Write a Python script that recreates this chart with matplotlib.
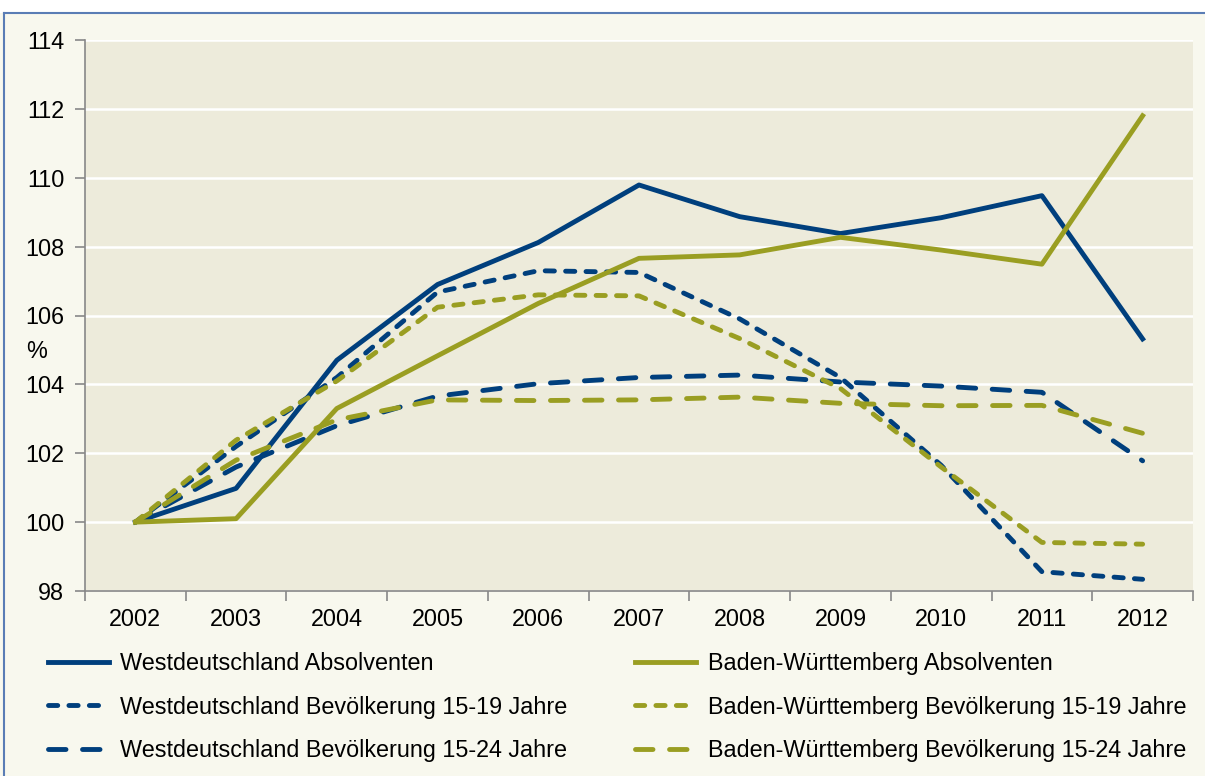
import matplotlib.pyplot as plt
import numpy as np
from matplotlib.patches import Rectangle

plt.rcParams['font.family'] = ['Liberation Sans', 'DejaVu Sans']

years = ['2002', '2003', '2004', '2005', '2006', '2007', '2008', '2009', '2010', '2011', '2012']

wd_abs = [100, 100.98, 104.70, 106.90, 108.12, 109.79, 108.87, 108.38, 108.84, 109.48, 105.32]
bw_abs = [100, 100.10, 103.30, 104.83, 106.35, 107.66, 107.76, 108.27, 107.90, 107.49, 111.80]
wd_1519 = [100, 102.20, 104.20, 106.68, 107.30, 107.25, 105.90, 104.20, 101.65, 98.56, 98.34]
bw_1519 = [100, 102.38, 104.10, 106.24, 106.60, 106.57, 105.33, 103.88, 101.60, 99.41, 99.36]
wd_1524 = [100, 101.60, 102.80, 103.66, 104.02, 104.20, 104.27, 104.07, 103.95, 103.77, 101.78]
bw_1524 = [100, 101.80, 102.97, 103.55, 103.53, 103.55, 103.63, 103.45, 103.38, 103.39, 102.58]

navy = '#003F7D'
olive = '#9A9E22'
fs = 16.8

fig = plt.figure(figsize=(12.05, 7.76), dpi=100)
fig.patch.set_facecolor('#F8F8EE')
ax = fig.add_axes([85/1205, 1-591/776, 1108/1205, 551/776])
ax.set_facecolor('#EDEBDB')

# white strip above the chart frame + frame line
fig.patches.append(Rectangle((0, 1-13/776), 1, 13/776, transform=fig.transFigure,
                             facecolor='white', edgecolor='none', zorder=0))
fig.lines.append(plt.Line2D([4/1205, 1], [1-13/776, 1-13/776], transform=fig.transFigure,
                            color='#5A7DB5', lw=1.5))
fig.lines.append(plt.Line2D([4/1205, 4/1205], [0, 1-13/776], transform=fig.transFigure,
                            color='#5A7DB5', lw=1.5))

x = np.arange(len(years))
lw = 3.5
short = (1.9, 2.3)
long_ = (3.6, 3.4)
ax.plot(x, wd_abs, color=navy, lw=lw, label='Westdeutschland Absolventen')
ax.plot(x, wd_1519, color=navy, lw=lw, dashes=short, dash_capstyle='round',
        label='Westdeutschland Bevölkerung 15-19 Jahre')
ax.plot(x, wd_1524, color=navy, lw=lw, dashes=long_, dash_capstyle='round',
        label='Westdeutschland Bevölkerung 15-24 Jahre')
ax.plot(x, bw_abs, color=olive, lw=lw, label='Baden-Württemberg Absolventen')
ax.plot(x, bw_1519, color=olive, lw=lw, dashes=short, dash_capstyle='round',
        label='Baden-Württemberg Bevölkerung 15-19 Jahre')
ax.plot(x, bw_1524, color=olive, lw=lw, dashes=long_, dash_capstyle='round',
        label='Baden-Württemberg Bevölkerung 15-24 Jahre')

ax.set_ylim(98, 114)
ax.set_yticks(np.arange(98, 115, 2))
ax.set_xlim(-0.5, 10.5)
ax.set_xticks(x)
ax.set_xticklabels(years)
ax.set_xticks(np.arange(-0.5, 11, 1), minor=True)
ax.tick_params(axis='x', which='major', length=0, pad=12, labelsize=fs)
ax.tick_params(axis='x', which='minor', length=7, color='#888888', width=1.2)
ax.tick_params(axis='y', length=7, color='#888888', width=1.2, pad=8, labelsize=fs)
ax.grid(axis='y', color='white', lw=1.8)
ax.set_axisbelow(True)
for s in ['top', 'right']:
    ax.spines[s].set_visible(False)
for s in ['left', 'bottom']:
    ax.spines[s].set_color('#888888')
    ax.spines[s].set_linewidth(1.2)

fig.text(26/1205, 1-352/776, '%', fontsize=fs, va='center', ha='left')

fig.legend(loc='upper left', bbox_to_anchor=(27/1205, 1-631/776), ncol=2, frameon=False,
           fontsize=fs, handlelength=2.6, handletextpad=0.5, columnspacing=2.9,
           labelspacing=0.88)

fig.savefig('out.png', dpi=100, facecolor=fig.get_facecolor())
